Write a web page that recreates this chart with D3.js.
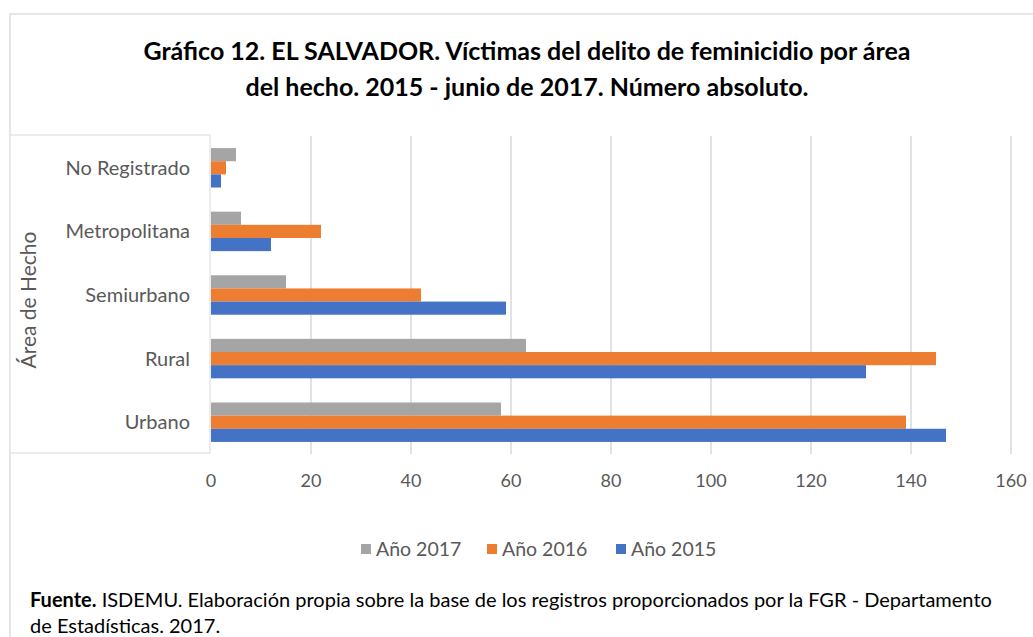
<!DOCTYPE html>
<html>
<head>
<meta charset="utf-8">
<script src="https://cdn.jsdelivr.net/npm/d3@7"></script>
<style>
	body { margin: 0; background: #fff; }
	svg { display: block; font-family: Lato, "Open Sans", sans-serif; }
	.cat-label, .tick-label, .legend-label, .axis-title { fill: #595959; }
	.grid { stroke: #d9d9d9; stroke-width: 1.5; }
</style>
</head>
<body>
<div id="chart"></div>
<script>
var categories = ["No Registrado", "Metropolitana", "Semiurbano", "Rural", "Urbano"];
var seriesNames = ["Año 2017", "Año 2016", "Año 2015"];
var values2017 = [5, 6, 15, 63, 58];
var values2016 = [3, 22, 42, 145, 139];
var values2015 = [2, 12, 59, 131, 147];
var xTicks = [0, 20, 40, 60, 80, 100, 120, 140, 160];
var colors = ["#a5a5a5", "#ed7d31", "#4472c4"];

var width = 1033, height = 637;
var plot = { left: 211, right: 1011, top: 136, bottom: 454 };

var svg = d3.select("#chart").append("svg")
	.attr("width", width)
	.attr("height", height);

// outer frame (cropped chart border)
svg.append("path")
	.attr("d", "M10," + height + "V14H" + width)
	.attr("fill", "none")
	.attr("stroke", "#e6e6e6")
	.attr("stroke-width", 2);

// title
var title = svg.append("text")
	.attr("text-anchor", "middle")
	.attr("font-weight", "bold")
	.attr("font-size", 25)
	.attr("fill", "#000");
title.append("tspan").attr("x", 527).attr("y", 60)
	.text("Gráfico 12. EL SALVADOR. Víctimas del delito de feminicidio por área");
title.append("tspan").attr("x", 527).attr("y", 96)
	.text("del hecho. 2015 - junio de 2017. Número absoluto.");

// scales
var xScale = d3.scaleLinear()
	.domain([0, 160])
	.range([plot.left, plot.right]);
var yScale = d3.scaleBand()
	.domain(categories)
	.range([plot.top, plot.bottom])
	.paddingInner(0.38)
	.paddingOuter(0.19);
var ySub = d3.scaleBand()
	.domain(seriesNames)
	.range([0, yScale.bandwidth()]);

// gridlines
svg.append("g").selectAll("line")
	.data(xTicks.slice(1)).enter()
	.append("line")
	.attr("class", "grid")
	.attr("x1", function(d){ return xScale(d); })
	.attr("x2", function(d){ return xScale(d); })
	.attr("y1", plot.top)
	.attr("y2", plot.bottom);

// bars
var seriesData = [values2017, values2016, values2015];
seriesData.forEach(function(vals, s){
	svg.append("g").selectAll("rect")
		.data(vals).enter()
		.append("rect")
		.attr("x", xScale(0))
		.attr("y", function(d, i){ return yScale(categories[i]) + ySub(seriesNames[s]); })
		.attr("width", function(d){ return xScale(d) - xScale(0); })
		.attr("height", ySub.bandwidth())
		.attr("fill", colors[s]);
});

// category label box
svg.append("rect")
	.attr("x", 10)
	.attr("y", 135)
	.attr("width", 200)
	.attr("height", 318)
	.attr("fill", "#fff")
	.attr("stroke", "#e6e6e6")
	.attr("stroke-width", 1.5);

// category labels
svg.append("g").selectAll("text")
	.data(categories).enter()
	.append("text")
	.attr("class", "cat-label")
	.attr("x", 190)
	.attr("y", function(d){ return yScale(d) + yScale.bandwidth() / 2; })
	.attr("dy", "0.35em")
	.attr("text-anchor", "end")
	.attr("font-size", 20)
	.text(function(d){ return d; });

// y axis title
svg.append("text")
	.attr("class", "axis-title")
	.attr("transform", "translate(29,300) rotate(-90)")
	.attr("text-anchor", "middle")
	.attr("dy", "0.35em")
	.attr("font-size", 21)
	.text("Área de Hecho");

// x tick labels
svg.append("g").selectAll("text")
	.data(xTicks).enter()
	.append("text")
	.attr("class", "tick-label")
	.attr("x", function(d){ return xScale(d); })
	.attr("y", 481)
	.attr("dy", "0.35em")
	.attr("text-anchor", "middle")
	.attr("font-size", 18)
	.text(function(d){ return d; });

// legend
var legendX = [361, 487, 616];
var legend = svg.append("g").selectAll("g")
	.data(seriesNames).enter()
	.append("g")
	.attr("transform", function(d, i){ return "translate(" + legendX[i] + ",549)"; });
legend.append("rect")
	.attr("x", 0).attr("y", -5)
	.attr("width", 10).attr("height", 10)
	.attr("fill", function(d, i){ return colors[i]; });
legend.append("text")
	.attr("class", "legend-label")
	.attr("x", 15)
	.attr("dy", "0.35em")
	.attr("font-size", 19.5)
	.text(function(d){ return d; });

// source note
var note = svg.append("text")
	.attr("font-size", 20)
	.attr("fill", "#000");
var line1 = note.append("tspan").attr("x", 30).attr("y", 607);
line1.append("tspan").attr("font-weight", "bold").text("Fuente.");
line1.append("tspan").text(" ISDEMU. Elaboración propia sobre la base de los registros proporcionados por la FGR - Departamento");
note.append("tspan").attr("x", 30).attr("y", 633).text("de Estadísticas. 2017.");
</script>
</body>
</html>
